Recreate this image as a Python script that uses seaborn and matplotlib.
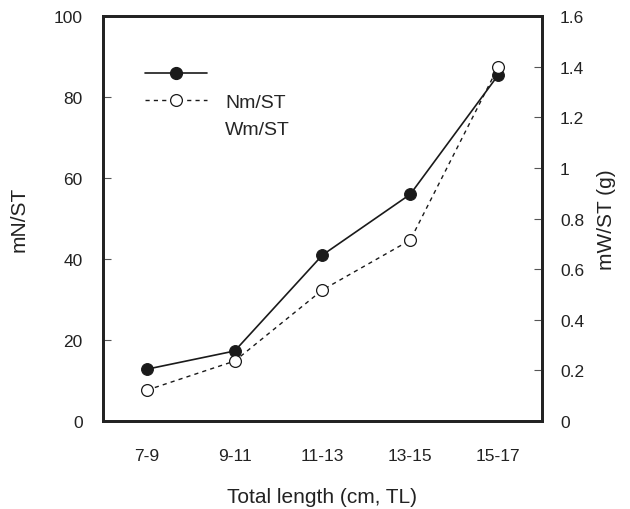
import pandas as pd
import matplotlib
matplotlib.use("Agg")
import matplotlib.pyplot as plt
import seaborn as sns
from matplotlib.lines import Line2D

length_classes = ["7-9", "9-11", "11-13", "13-15", "15-17"]
nm_st = [12.8, 17.3, 41.0, 56.0, 85.4]
wm_st = [0.122, 0.237, 0.518, 0.715, 1.398]

sns.set_style("white")
plt.rcParams['font.family'] = ['Liberation Sans', 'DejaVu Sans']

df_n = pd.DataFrame({'Class': length_classes, 'Value': nm_st})
df_w = pd.DataFrame({'Class': length_classes, 'Value': wm_st})

fig = plt.figure(figsize=(6.3, 5.1), dpi=100)
ax = fig.add_axes([0.1635, 0.1725, 0.6968, 0.794])
ax2 = ax.twinx()

sns.lineplot(data=df_n, x='Class', y='Value', ax=ax, color='#1a1a1a', lw=1.2,
             marker='o', markersize=8.5, markerfacecolor='#1a1a1a',
             markeredgecolor='#1a1a1a', sort=False)
sns.lineplot(data=df_w, x='Class', y='Value', ax=ax2, color='#1a1a1a', lw=1.0,
             linestyle=(0, (3, 3)), marker='o', markersize=8.5,
             markerfacecolor='white', markeredgecolor='#1a1a1a',
             markeredgewidth=0.9, sort=False)

ax.set_xlim(-0.5, 4.5)
ax.set_ylim(0, 100)
ax2.set_ylim(0, 1.6)
ax.set_yticks([0, 20, 40, 60, 80, 100])
ax2.set_yticks([0, 0.2, 0.4, 0.6, 0.8, 1.0, 1.2, 1.4, 1.6])
ax2.set_yticklabels(['0', '0.2', '0.4', '0.6', '0.8', '1', '1.2', '1.4', '1.6'])

ax.set_xticks(range(len(length_classes)))
ax.set_xticklabels(length_classes)
ax.set_xticks([0.5, 1.5, 2.5, 3.5], minor=True)
ax.tick_params(axis='x', which='major', length=0, pad=19.5, labelsize=12.5, colors='#222222')
ax.tick_params(axis='x', which='minor', direction='in', length=6, width=0.8, color='#555555')
ax.tick_params(axis='y', direction='in', length=6, width=0.8, color='#555555',
               labelsize=12.5, labelcolor='#222222', pad=14.5)
ax2.tick_params(axis='y', direction='in', length=6, width=0.8, color='#555555',
                labelsize=12.5, labelcolor='#222222', pad=13)

ax.set_xlabel('Total length (cm, TL)', fontsize=15, color='#222222', labelpad=17)
ax.set_ylabel('mN/ST', fontsize=15, color='#222222', labelpad=18)
ax2.set_ylabel('mW/ST (g)', fontsize=15, color='#222222', labelpad=9)

for a in (ax, ax2):
    for s in a.spines.values():
        s.set_linewidth(2)
        s.set_color('#222222')

h1 = Line2D([], [], color='#1a1a1a', lw=1.2, marker='o', markersize=8.5,
            markerfacecolor='#1a1a1a')
h2 = Line2D([], [], color='#1a1a1a', lw=1.0, linestyle=(0, (3, 3)), marker='o',
            markersize=8.5, markerfacecolor='white', markeredgewidth=0.9)
h3 = Line2D([], [], color='none')
ax.legend([h1, h2, h3], ['', 'Nm/ST', 'Wm/ST'], loc='upper left',
          bbox_to_anchor=(0.055, 0.92), frameon=False, fontsize=14,
          handlelength=3.2, labelspacing=0.5, handletextpad=0.93)

fig.savefig('out.png', dpi=100)
